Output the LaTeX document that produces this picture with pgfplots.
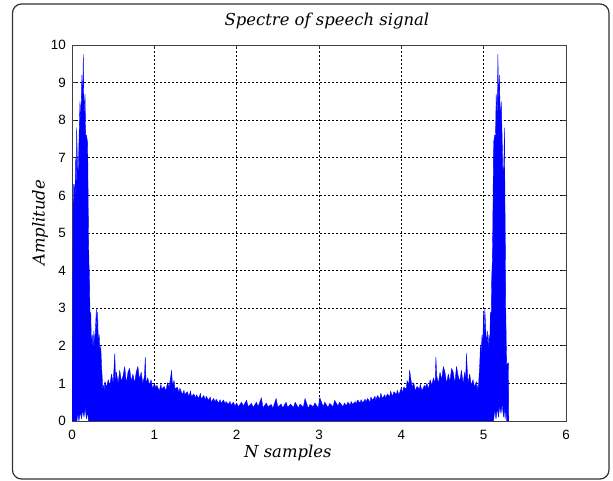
\documentclass[border=0pt]{standalone}
\usepackage{fontspec}
\setmainfont{DejaVu Serif}
\newfontfamily\sansf{Liberation Sans}
\usepackage{pgfplots}
\pgfplotsset{compat=1.18}
\begin{document}
\begin{tikzpicture}[x=1bp,y=1bp]
\useasboundingbox (0,0) rectangle (613,481);
\draw[black!80, line width=1.2bp, rounded corners=9bp] (12.5,2) rectangle (609,477);
\begin{axis}[
  at={(72bp,60bp)}, anchor=south west, scale only axis,
  width=494bp, height=376bp,
  xmin=0, xmax=6, ymin=0, ymax=10,
  xtick={0,1,2,3,4,5,6}, ytick={0,1,2,3,4,5,6,7,8,9,10},
  /pgf/number format/assume math mode=true,
  tick label style={font=\sansf\fontsize{13.5}{15}\selectfont, inner sep=0pt},
  xticklabel style={anchor=north, yshift=-9bp},
  yticklabel style={anchor=east, xshift=-6bp},
  tick align=inside, major tick length=4bp,
  tick style={black!80, line width=0.8bp},
  axis line style={black!75, line width=0.8bp},
  grid=major,
  major grid style={black, line width=0.6bp, dash pattern=on 2bp off 2bp},
  title={\itshape Spectre of speech signal},
  title style={at={(axis description cs:0.516,1.048)}, anchor=center, inner sep=0pt, font=\fontsize{16.5}{19}\selectfont},
  xlabel={\itshape N samples},
  xlabel style={at={(axis description cs:0.437,-0.085)}, anchor=center, inner sep=0pt, font=\fontsize{16.5}{19}\selectfont},
  ylabel={\itshape Amplitude},
  ylabel style={at={(axis description cs:-0.0648,0.527)}, anchor=center, rotate=0, inner sep=0pt, font=\fontsize{16.5}{19}\selectfont},
  clip=true,
]
\addplot[draw=blue, fill=blue, line width=0.35bp, line join=bevel] coordinates {
(0.000,0)(0.001,1.6)(0.008,1.5)(0.012,4.5)(0.016,6.3)(0.022,5.2)(0.030,6.3)(0.038,5.8)(0.045,7.0)(0.050,6.0)
(0.057,7.8)(0.066,6.8)(0.077,6.6)(0.086,7.6)(0.097,8.5)(0.106,7.9)(0.120,9.2)(0.128,8.3)(0.137,9.75)(0.146,8.1)
(0.158,8.7)(0.166,7.6)(0.176,7.6)(0.190,7.4)(0.196,6.0)(0.200,5.0)(0.206,4.2)(0.212,3.85)(0.220,2.6)(0.228,2.9)
(0.236,2.0)(0.246,2.3)(0.256,1.9)(0.266,2.4)(0.276,2.0)(0.286,2.5)(0.296,3.0)(0.304,2.2)(0.312,2.9)(0.320,2.0)
(0.330,2.3)(0.340,1.8)(0.350,2.0)(0.358,1.5)(0.366,1.2)(0.374,0.85)(0.382,0.95)(0.390,0.8)(0.400,1.05)
(0.42,0.9)(0.44,1.1)(0.46,0.95)(0.48,1.25)(0.50,1.0)(0.52,1.8)(0.53,1.0)(0.54,1.3)(0.56,1.0)(0.58,1.35)
(0.60,1.05)(0.62,1.2)(0.64,1.45)(0.66,1.0)(0.68,1.3)(0.70,1.4)(0.72,1.05)(0.74,1.25)(0.76,1.0)(0.78,1.3)
(0.80,1.45)(0.82,1.1)(0.84,1.3)(0.86,1.0)(0.88,1.2)(0.89,1.7)(0.90,1.0)(0.92,1.15)(0.94,0.95)(0.96,1.1)
(0.98,0.85)(1.00,1.0)(1.02,0.88)(1.03,0.95)(1.06,0.8)(1.08,0.98)(1.09,0.85)(1.12,0.92)(1.14,0.8)(1.16,1.02)
(1.18,0.9)(1.21,1.35)(1.22,0.95)(1.24,1.08)(1.25,0.85)(1.28,0.9)(1.30,0.75)(1.31,0.88)(1.34,0.7)(1.36,0.82)
(1.37,0.7)(1.40,0.78)(1.42,0.65)(1.44,0.8)(1.45,0.65)(1.48,0.72)(1.50,0.6)(1.51,0.7)(1.54,0.6)(1.56,0.74)
(1.57,0.58)(1.60,0.68)(1.62,0.55)(1.63,0.66)(1.66,0.55)(1.68,0.64)(1.69,0.5)(1.72,0.6)(1.74,0.5)(1.75,0.58)
(1.78,0.48)(1.80,0.57)(1.81,0.47)(1.84,0.56)(1.86,0.45)(1.87,0.52)(1.90,0.44)(1.92,0.52)(1.93,0.42)(1.96,0.5)
(1.98,0.4)(2.00,0.48)(2.02,0.38)(2.06,0.5)(2.08,0.4)(2.12,0.55)(2.14,0.38)(2.18,0.47)(2.20,0.36)(2.24,0.5)
(2.26,0.38)(2.30,0.62)(2.32,0.35)(2.36,0.48)(2.38,0.38)(2.42,0.44)(2.44,0.34)(2.48,0.6)(2.50,0.37)(2.54,0.45)
(2.56,0.35)(2.60,0.5)(2.62,0.36)(2.655,0.45)
(2.69,0.36)(2.71,0.5)(2.75,0.35)(2.77,0.45)(2.81,0.37)(2.83,0.6)(2.87,0.34)(2.89,0.44)(2.93,0.38)(2.95,0.48)
(2.99,0.35)(3.01,0.62)(3.05,0.38)(3.07,0.5)(3.11,0.36)(3.13,0.47)(3.17,0.38)(3.19,0.55)(3.23,0.4)(3.25,0.5)
(3.29,0.38)(3.31,0.48)(3.33,0.4)(3.35,0.5)(3.38,0.42)(3.39,0.52)(3.41,0.44)(3.44,0.52)(3.45,0.45)(3.47,0.56)
(3.50,0.47)(3.51,0.57)(3.53,0.48)(3.56,0.58)(3.57,0.5)(3.59,0.6)(3.62,0.5)(3.63,0.64)(3.65,0.55)(3.68,0.66)
(3.69,0.55)(3.71,0.68)(3.74,0.58)(3.75,0.74)(3.77,0.6)(3.80,0.7)(3.81,0.6)(3.83,0.72)(3.86,0.65)(3.87,0.8)
(3.89,0.65)(3.91,0.78)(3.94,0.7)(3.95,0.82)(3.97,0.7)(4.00,0.88)(4.01,0.75)(4.03,0.9)(4.06,0.85)(4.07,1.08)
(4.09,0.95)(4.10,1.35)(4.13,0.9)(4.15,1.02)(4.17,0.8)(4.19,0.92)(4.22,0.85)(4.23,0.98)(4.25,0.8)(4.28,0.95)
(4.29,0.88)(4.31,1.0)(4.33,0.85)(4.35,1.1)(4.37,0.95)(4.39,1.15)(4.41,1.0)(4.42,1.7)(4.43,1.2)(4.45,1.0)
(4.47,1.3)(4.49,1.1)(4.51,1.45)(4.53,1.3)(4.55,1.0)(4.57,1.25)(4.59,1.05)(4.61,1.4)(4.63,1.3)(4.65,1.0)
(4.67,1.45)(4.69,1.2)(4.71,1.05)(4.73,1.35)(4.75,1.0)(4.77,1.3)(4.78,1.0)(4.79,1.8)(4.81,1.0)(4.83,1.25)
(4.85,0.95)(4.87,1.1)(4.89,0.9)(4.910,1.05)(4.920,0.8)(4.928,0.95)(4.936,0.85)(4.944,1.2)(4.952,1.5)(4.960,2.0)
(4.970,1.8)(4.980,2.3)(4.990,2.0)(4.998,2.9)(5.006,2.2)(5.014,3.0)(5.024,2.5)(5.034,2.0)(5.044,2.4)(5.054,1.9)
(5.064,2.3)(5.074,2.0)(5.082,2.9)(5.090,2.6)(5.098,3.85)(5.104,4.2)(5.110,5.0)(5.114,6.0)(5.120,7.4)(5.134,7.6)
(5.144,7.6)(5.152,8.7)(5.164,8.1)(5.173,9.75)(5.182,8.3)(5.190,9.2)(5.204,7.9)(5.213,8.5)(5.224,7.6)(5.233,6.6)
(5.244,6.8)(5.253,7.8)(5.258,6.0)(5.262,5.0)(5.268,3.0)(5.275,2.0)(5.280,1.5)(5.300,1.55)(5.305,0)
(5.28,0)(5.27,0.3)(5.26,0.05)(5.25,0.4)(5.24,0.1)(5.225,0.45)(5.21,0.2)(5.195,0.4)(5.18,0.1)(5.165,0.35)
(5.15,0.05)(5.135,0.3)(5.12,0.0)(0.20,0.0)(0.19,0.25)(0.175,0.05)(0.16,0.35)(0.145,0.1)(0.13,0.3)(0.115,0.05)
(0.10,0.25)(0.085,0.0)(0.07,0.2)(0.06,0.0)(0,0)
};
\node[anchor=west, inner sep=0pt, font=\sansf\fontsize{13}{14}\selectfont] at (axis description cs:0,1.032) {x 10\raisebox{0.5em}{\fontsize{9.5}{9}\selectfont 6}};
\node[anchor=east, inner sep=0pt, font=\sansf\fontsize{13}{14}\selectfont] at (axis description cs:0.998,-0.106) {x 10\raisebox{0.5em}{\fontsize{9.5}{9}\selectfont 4}};
\end{axis}
\end{tikzpicture}
\end{document}
